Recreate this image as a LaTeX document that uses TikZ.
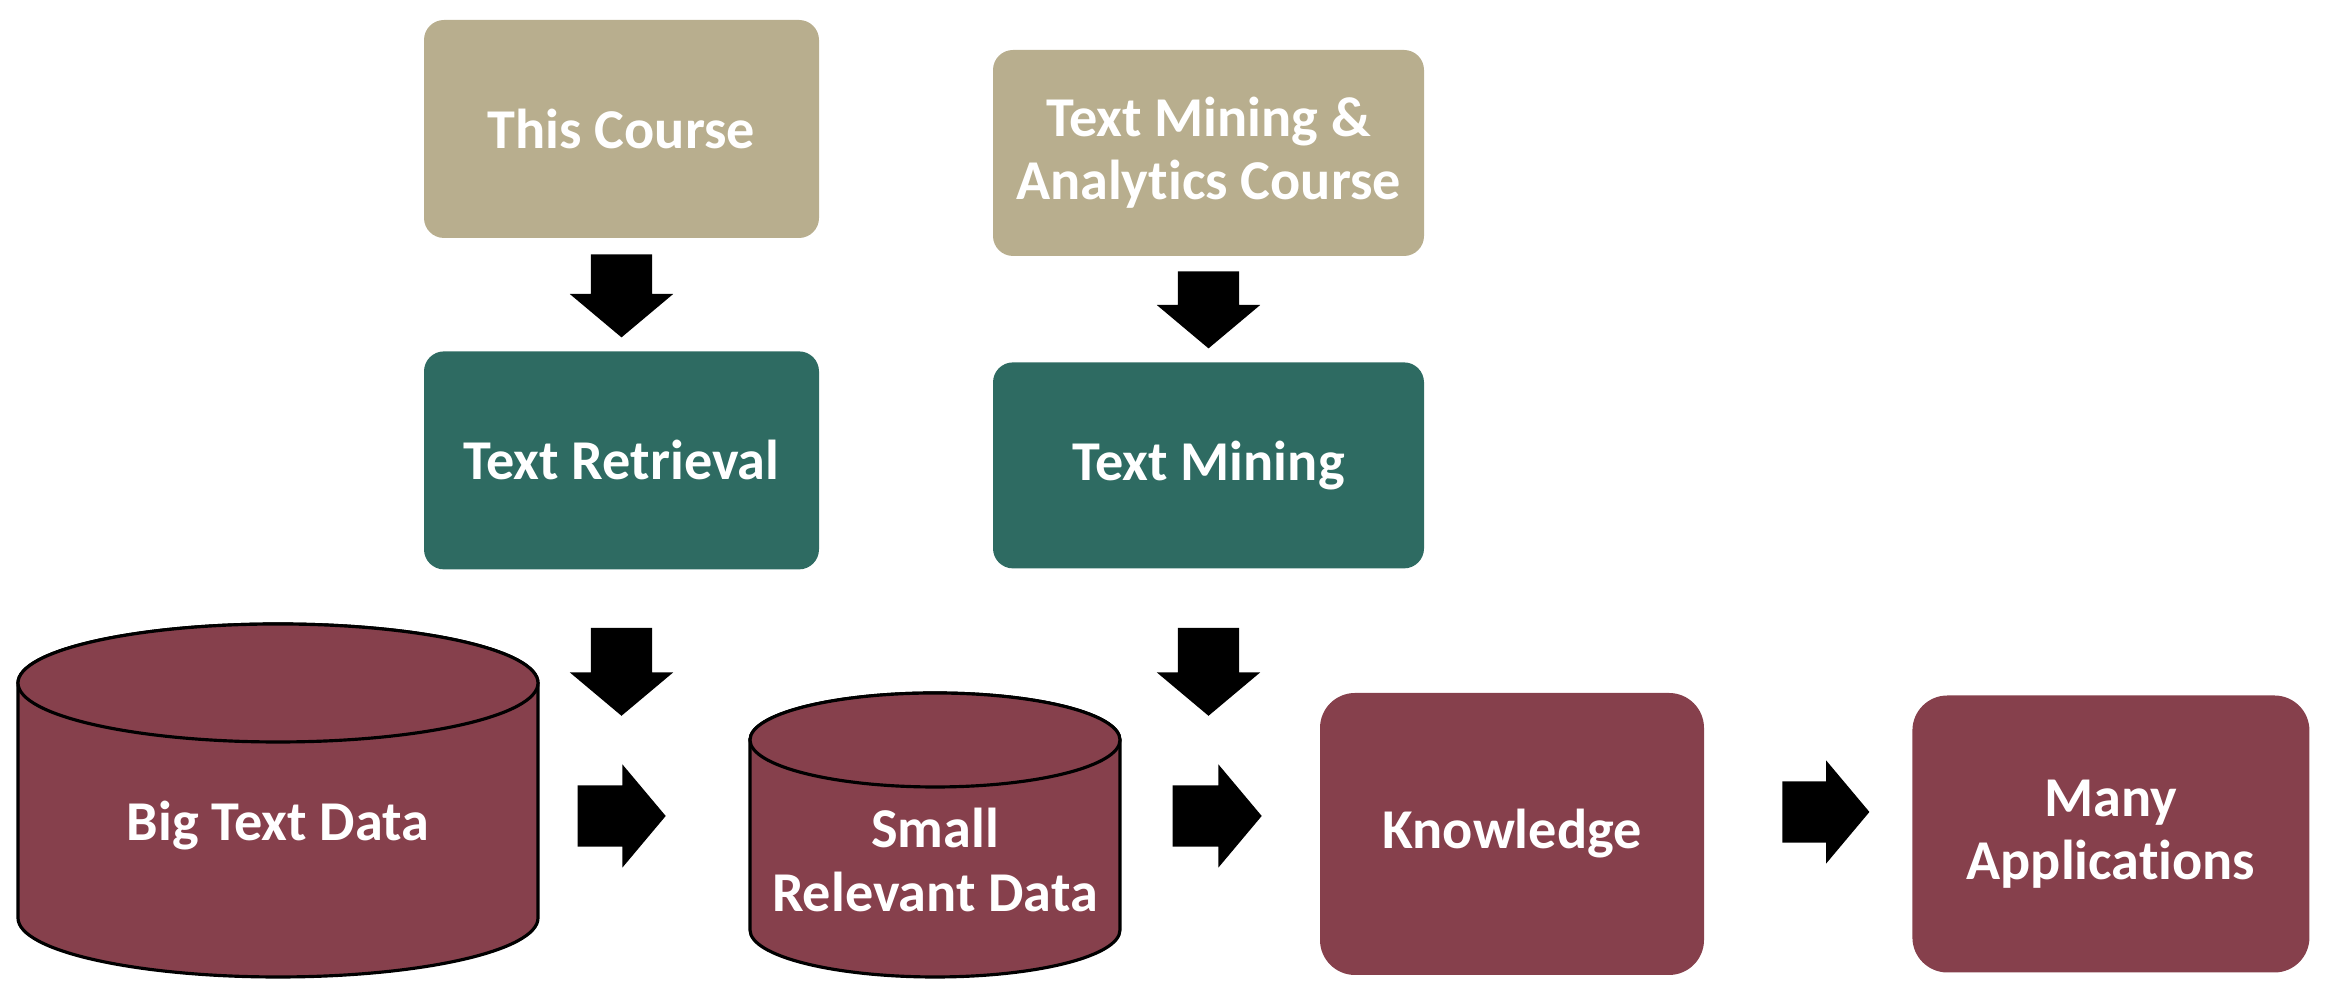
\documentclass[tikz,border=0pt]{standalone}
\usepackage{fontspec}
\setmainfont{Carlito}[Ligatures=CommonOff]
\usepackage{tikz}
\usetikzlibrary{positioning,calc,shapes.arrows}
\definecolor{sand}{HTML}{B8AE8E}
\definecolor{pine}{HTML}{2E6B62}
\definecolor{wine}{HTML}{86404C}

\begin{document}
\begin{tikzpicture}[
   lbl/.style={text=white,align=center,inner sep=0pt,font=\fontsize{16}{18}\selectfont\bfseries},
   box/.style={lbl,fill=#1,rounded corners=0.2cm},
   blk/.style={single arrow,fill=black,inner xsep=0pt,inner ysep=0.3cm,
     single arrow head extend=0.21cm,single arrow tip angle=100,minimum height=#1,anchor=tail},
   blk/.default=0.88cm,
   cyl/.style={draw=black,fill=wine,line width=0.9pt}]
  \useasboundingbox (0,0) rectangle (23.26,9.94);
  % courses and what they teach
  \node[box=sand,minimum width=3.95cm,minimum height=2.18cm] (tc) at (6.215,8.65) {This Course};
  \node[box=pine,minimum width=3.95cm,minimum height=2.18cm,below=1.12cm of tc] (tr) {Text Retrieval};
  \node[box=sand,minimum width=4.31cm,minimum height=2.06cm] (tma) at (12.085,8.41) {Text Mining \&\\Analytics Course};
  \node[box=pine,minimum width=4.31cm,minimum height=2.06cm,below=1.05cm of tma] (tm) {Text Mining};
  % data stores
  \foreach \cx/\rx/\yt/\yb/\ry in {2.78/2.60/3.11/0.76/0.59, 9.35/1.85/2.54/0.64/0.47}{
    \draw[cyl] (\cx-\rx,\yt) -- (\cx-\rx,\yb) arc[start angle=180,end angle=360,x radius=\rx,y radius=\ry]
       -- (\cx+\rx,\yt) arc[start angle=0,end angle=180,x radius=\rx,y radius=\ry] -- cycle;
    \draw[cyl] (\cx,\yt) ellipse[x radius=\rx,y radius=\ry];
  }
  \node[lbl] (big) at (2.78,1.68) {Big Text Data};
  \node[lbl] (small) at (9.35,1.34) {Small\\Relevant Data};
  % results
  \node[box=wine,rounded corners=0.35cm,minimum width=3.84cm,minimum height=2.82cm] (know) at (15.12,1.60) {Knowledge};
  \node[box=wine,rounded corners=0.35cm,minimum width=3.97cm,minimum height=2.77cm,right=2.07cm of know] (apps) {Many\\Applications};
  % block arrows
  \node[blk=0.83cm,rotate=-90] (a1) at ($(tc.south)+(0,-0.15)$) {};
  \node[blk=0.77cm,rotate=-90] (a2) at ($(tma.south)+(0,-0.14)$) {};
  \node[blk,rotate=-90] (a3) at ($(tr.south)+(0,-0.57)$) {};
  \node[blk,rotate=-90] (a4) at ($(tm.south)+(0,-0.58)$) {};
  \node[blk] (a5) at (5.77,1.78) {};
  \node[blk=0.89cm] (a6) at (11.72,1.78) {};
  \node[blk=0.87cm] (a7) at ($(know.east)+(0.77,0.22)$) {};
\end{tikzpicture}
\end{document}
